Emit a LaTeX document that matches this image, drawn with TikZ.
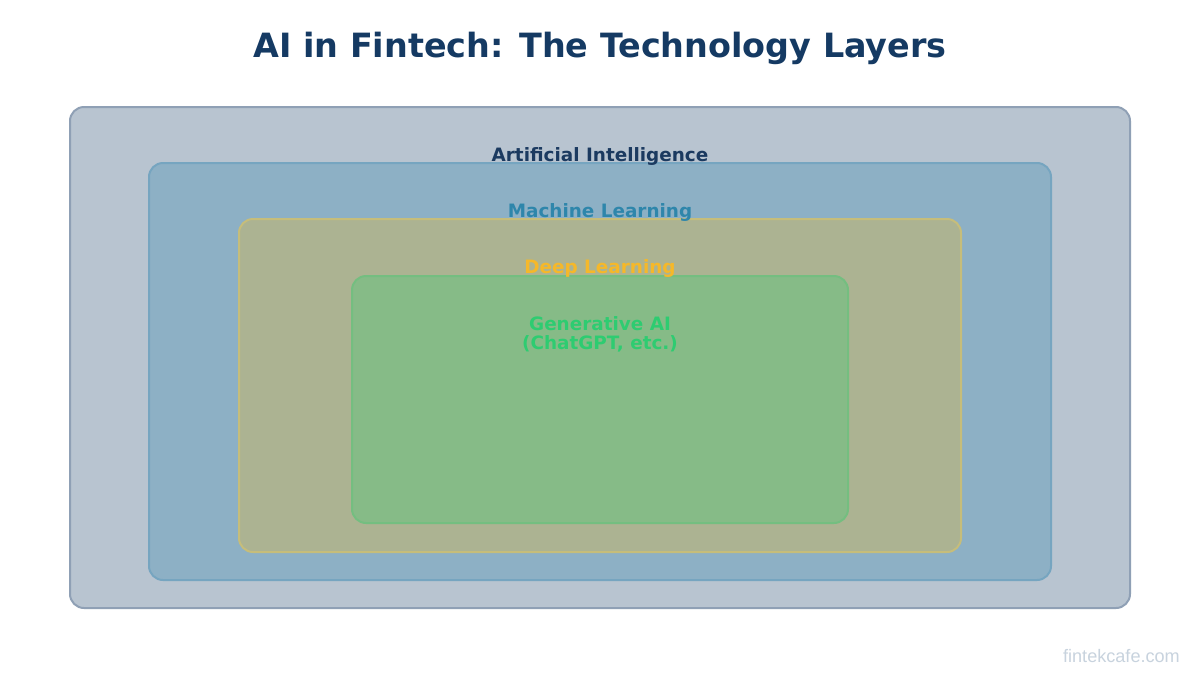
\documentclass[tikz,border=0pt]{standalone}
\usepackage{fontspec}
\setmainfont{DejaVu Sans}
\newfontfamily\wmfont{Liberation Sans}
\definecolor{titleblue}{HTML}{153A63}
\definecolor{aiFill}{HTML}{B8C4D0}
\definecolor{aiLine}{HTML}{8FA0B5}
\definecolor{mlFill}{HTML}{8DB0C5}
\definecolor{mlLine}{HTML}{76A5C0}
\definecolor{mlText}{HTML}{2E86AB}
\definecolor{dlFill}{HTML}{ACB392}
\definecolor{dlLine}{HTML}{C6BD7A}
\definecolor{dlText}{HTML}{F5B82A}
\definecolor{gaFill}{HTML}{86BB87}
\definecolor{gaLine}{HTML}{74BE80}
\definecolor{gaText}{HTML}{2ECC71}
\definecolor{aiText}{HTML}{1B3A60}
\definecolor{wmgray}{HTML}{C8D3DE}
\begin{document}
\begin{tikzpicture}[x=1pt,y=-1pt,
  layer/.style={draw, line width=2pt, rounded corners=14pt, inner sep=0pt},
  lbl/.style={font=\bfseries\fontsize{18.4}{19}\selectfont, align=center, inner sep=0pt}]
\useasboundingbox (0,0) rectangle (1200,675);
\fill[white] (0,0) rectangle (1200,675);
\node[font=\bfseries\fontsize{33.4}{38}\selectfont, text=titleblue] (title) at (600,48) {AI in Fintech: The Technology Layers};
\node[layer, draw=aiLine, fill=aiFill, minimum width=1060pt, minimum height=501pt] (ai) at (600,357.5) {};
\node[layer, draw=mlLine, fill=mlFill, minimum width=902pt, minimum height=417pt] (ml) at (600,371.5) {};
\node[layer, draw=dlLine, fill=dlFill, minimum width=722pt, minimum height=333pt] (dl) at (600,385.5) {};
\node[layer, draw=gaLine, fill=gaFill, minimum width=496pt, minimum height=247pt] (ga) at (600,399.5) {};
\node[lbl, text=aiText] (ailbl) at (600,156) {Artificial Intelligence};
\node[lbl, text=mlText] (mllbl) at (600,212) {Machine Learning};
\node[lbl, text=dlText] (dllbl) at (600,268) {Deep Learning};
\node[lbl, text=gaText] (galbl) at (600,334) {Generative AI\\(ChatGPT, etc.)};
\node[font=\wmfont\fontsize{18.1}{20}\selectfont, text=wmgray, anchor=east, inner sep=0pt] (wm) at (1180,656) {fintekcafe.com};
\end{tikzpicture}
\end{document}
